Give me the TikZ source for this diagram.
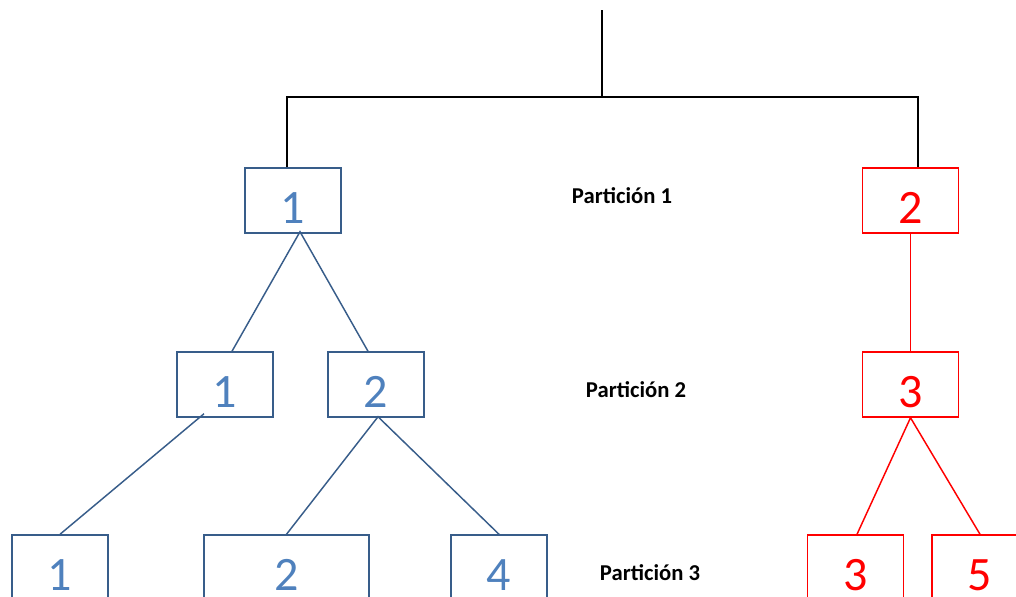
\documentclass[tikz,border=0pt]{standalone}
\usepackage{fontspec}
\setmainfont{Carlito}
\usetikzlibrary{calc}
\definecolor{blueline}{RGB}{56,93,138}
\definecolor{bluetext}{RGB}{79,129,189}
\colorlet{redline}{red}
\tikzset{
    part/.style={line width=1.1pt, inner sep=0pt, minimum width=72pt, minimum height=48.75pt,
        font=\fontsize{36}{36}\selectfont, text height=34pt, text depth=0pt},
    bluebox/.style={part, draw=blueline, text=bluetext},
    redbox/.style={part, draw=redline, text=redline},
    partname/.style={anchor=base, font=\fontsize{17}{17}\selectfont\bfseries},
}

\begin{document}
\begin{tikzpicture}[x=0.75pt,y=-0.75pt]
        % page frame, the last row runs off it
        \path[use as bounding box, clip] (0,0) rectangle (1016,596);
        % first partition
        \node[bluebox] (a1) at (293,200.5) {1};
        \node[redbox] (b1) at (910.5,200.5) {2};
        % second partition
        \node[bluebox] (a11) at (225,384.5) {1};
        \node[bluebox] (a12) at (376,384.5) {2};
        \node[redbox] (b11) at (910.5,384.5) {3};
        % third partition
        \node[bluebox] (a111) at (60,567.5) {1};
        \node[bluebox, minimum width=123.75pt] (a121) at (286.5,567.5) {2};
        \node[bluebox] (a122) at (499,567.5) {4};
        \node[redbox] (b111) at (855.5,567.5) {3};
        \node[redbox] (b112) at (980,567.5) {5};
        % names of the levels
        \node[partname] (p1) at (622,203) {Partición 1};
        \node[partname] (p2) at (636,397) {Partición 2};
        \node[partname] (p3) at (650,580) {Partición 3};
        % root and fork
        \coordinate (root) at (602,10);
        \coordinate (fork) at (602,97);
        \draw[line width=1.1pt] (root) -- (fork);
        \draw[line width=1.1pt] ($(a1.north)+(-6,0)$) |- (fork) -| ($(b1.north)+(7.5,0)$);
        % blue branches
        \draw[blueline, line width=1.1pt] ($(a11.north)+(7,0)$) -- ($(a1.south)+(7,-2)$) -- ($(a12.north)+(-8,0)$);
        \draw[blueline, line width=1.1pt] ($(a11.south)+(-21,-4)$) -- (a111.north);
        \draw[blueline, line width=1.1pt] (a121.north) -- ($(a12.south)+(2,-1)$) -- (a122.north);
        % red branches
        \draw[redline, line width=1.1pt] (b1.south) -- (b11.north);
        \draw[redline, line width=1.1pt] ($(b111.north)+(1.5,0)$) -- (b11.south) -- (b112.north);
    \end{tikzpicture}
\end{document}
